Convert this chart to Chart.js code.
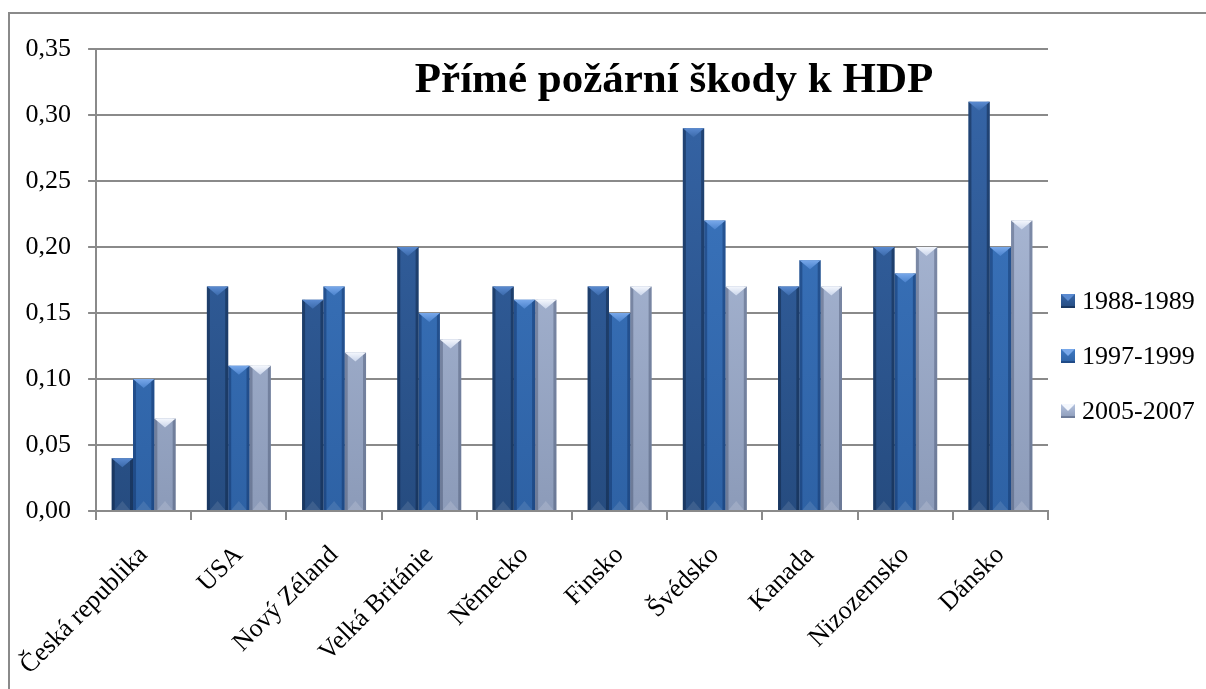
<!DOCTYPE html>
<html>
<head>
<meta charset="utf-8">
<script src="https://cdn.jsdelivr.net/npm/chart.js@4/dist/chart.umd.min.js"></script>
<style>
html,body{margin:0;padding:0;background:#fff;}
#wrap{width:1206px;height:689px;position:relative;}
</style>
</head>
<body>
<div id="wrap"><canvas id="c" width="1206" height="689"></canvas></div>
<script>
const chartTitle = 'Přímé požární škody k HDP';
const categories = ['Česká republika','USA','Nový Zéland','Velká Británie','Německo','Finsko','Švédsko','Kanada','Nizozemsko','Dánsko'];
const seriesNames = ['1988-1989','1997-1999','2005-2007'];
const values1988 = [0.04,0.17,0.16,0.20,0.17,0.17,0.29,0.17,0.20,0.31];
const values1997 = [0.10,0.11,0.17,0.15,0.16,0.15,0.22,0.19,0.18,0.20];
const values2005 = [0.07,0.11,0.12,0.13,0.16,0.17,0.17,0.17,0.20,0.22];
const yTicks = [0,0.05,0.10,0.15,0.20,0.25,0.30,0.35];

const SERIF = "'Liberation Serif','Times New Roman',serif";
const styles = [
  {top:'#3767aa', bottom:'#264c80', cap:'#5a8ad0', capLow:'#3b6aab', edge:'rgba(10,30,60,0.45)', foot:'rgba(255,255,255,0.10)'},
  {top:'#3e79c3', bottom:'#2e62a5', cap:'#78a8ea', capLow:'#4a82cc', edge:'rgba(10,40,90,0.40)', foot:'rgba(255,255,255,0.10)'},
  {top:'#b5c3df', bottom:'#8c9bb9', cap:'#f4f7fd', capLow:'#c9d4ea', edge:'rgba(50,60,90,0.35)', foot:'rgba(255,255,255,0.15)'}
];

function grad(ctx, chartArea, s){
  const g = ctx.createLinearGradient(0, chartArea.top, 0, chartArea.bottom);
  g.addColorStop(0, s.top);
  g.addColorStop(1, s.bottom);
  return g;
}

const frame = {
  id:'frame',
  beforeDraw(chart){
    const ctx = chart.ctx;
    ctx.save();
    ctx.fillStyle = '#fff';
    ctx.fillRect(0,0,chart.width,chart.height);
    ctx.strokeStyle = '#8a8a8a';
    ctx.lineWidth = 2;
    ctx.beginPath();
    ctx.moveTo(9, chart.height);
    ctx.lineTo(9, 13);
    ctx.lineTo(chart.width, 13);
    ctx.stroke();
    ctx.restore();
  }
};

function drawBevel(ctx, left, right, top, bottom, s){
  const w = right - left;
  const h = bottom - top;
  if (h <= 0) return;
  const cx = (left + right)/2;
  const d = Math.min(9, h/2);
  const e = Math.min(3, w/6);
  ctx.save();
  ctx.fillStyle = s.edge;
  ctx.fillRect(left, top, e, h);
  ctx.fillRect(right - e, top, e, h);
  ctx.fillStyle = s.foot;
  ctx.beginPath();
  ctx.moveTo(left + e, bottom);
  ctx.lineTo(right - e, bottom);
  ctx.lineTo(cx, bottom - d);
  ctx.closePath();
  ctx.fill();
  const g = ctx.createLinearGradient(0, top, 0, top + d);
  g.addColorStop(0, s.cap);
  g.addColorStop(1, s.capLow);
  ctx.fillStyle = g;
  ctx.beginPath();
  ctx.moveTo(left, top);
  ctx.lineTo(right, top);
  ctx.lineTo(cx, top + d);
  ctx.closePath();
  ctx.fill();
  ctx.restore();
}

const bevel = {
  id:'bevel',
  afterDatasetsDraw(chart){
    const ctx = chart.ctx;
    chart.data.datasets.forEach((ds, i) => {
      const meta = chart.getDatasetMeta(i);
      meta.data.forEach(bar => {
        const p = bar.getProps(['x','y','base','width'], true);
        drawBevel(ctx, p.x - p.width/2, p.x + p.width/2, Math.min(p.y,p.base), Math.max(p.y,p.base), styles[i]);
      });
    });
  }
};

const titleAndLegend = {
  id:'titleAndLegend',
  afterDraw(chart){
    const ctx = chart.ctx;
    ctx.save();
    ctx.fillStyle = '#000';
    ctx.font = 'bold 43px ' + SERIF;
    ctx.textAlign = 'center';
    ctx.textBaseline = 'alphabetic';
    ctx.fillText(chartTitle, 674, 92);
    const lx = 1061, size = 14;
    const ys = [301, 356, 411];
    ctx.font = '26px ' + SERIF;
    ctx.textAlign = 'left';
    ctx.textBaseline = 'middle';
    chart.data.datasets.forEach((ds, i) => {
      const y = ys[i];
      const s = styles[i];
      const g = ctx.createLinearGradient(0, y - size/2, 0, y + size/2);
      g.addColorStop(0, s.top); g.addColorStop(1, s.bottom);
      ctx.fillStyle = g;
      ctx.fillRect(lx, y - size/2, size, size);
      ctx.fillStyle = s.cap;
      ctx.beginPath();
      ctx.moveTo(lx, y - size/2);
      ctx.lineTo(lx + size, y - size/2);
      ctx.lineTo(lx + size/2, y);
      ctx.closePath();
      ctx.fill();
      ctx.fillStyle = s.edge;
      ctx.fillRect(lx, y + size/2 - 2, size, 2);
      ctx.fillStyle = '#000';
      ctx.fillText(ds.label, lx + size + 7, y + 1);
    });
    ctx.restore();
  }
};

const seriesValues = [values1988, values1997, values2005];
const datasets = seriesNames.map((name, i) => ({
  label: name,
  data: seriesValues[i],
  backgroundColor: (c) => {
    const ca = c.chart.chartArea;
    if (!ca) return styles[i].top;
    return grad(c.chart.ctx, ca, styles[i]);
  },
  borderWidth: 0,
  categoryPercentage: 0.672,
  barPercentage: 1.0
}));

new Chart(document.getElementById('c'), {
  type: 'bar',
  data: { labels: categories, datasets },
  options: {
    responsive: false,
    animation: false,
    devicePixelRatio: 1,
    layout: { padding: { left: 7, right: 158, top: 49, bottom: 8 } },
    plugins: {
      legend: { display: false },
      title: { display: false },
      tooltip: { enabled: false }
    },
    scales: {
      x: {
        afterFit(scale){ scale.height = scale.height - 20; },
        grid: { display: true, drawOnChartArea: false, drawTicks: true, tickLength: 9, color: '#8a8a8a', lineWidth: 2, offset: true },
        border: { display: true, color: '#8a8a8a', width: 2 },
        ticks: { color: '#000', font: { family: SERIF, size: 26 }, minRotation: 45, maxRotation: 45, autoSkip: false, padding: 20 }
      },
      y: {
        min: 0, max: 0.35,
        afterBuildTicks(axis){ axis.ticks = yTicks.map(v => ({ value: v })); },
        grid: { color: '#8a8a8a', lineWidth: 2, drawTicks: true, tickLength: 8 },
        border: { display: true, color: '#8a8a8a', width: 2 },
        ticks: { color: '#000', font: { family: SERIF, size: 26 }, padding: 17,
          callback: (v) => Number(v).toFixed(2).replace('.', ',') }
      }
    }
  },
  plugins: [frame, bevel, titleAndLegend]
});
</script>
</body>
</html>
